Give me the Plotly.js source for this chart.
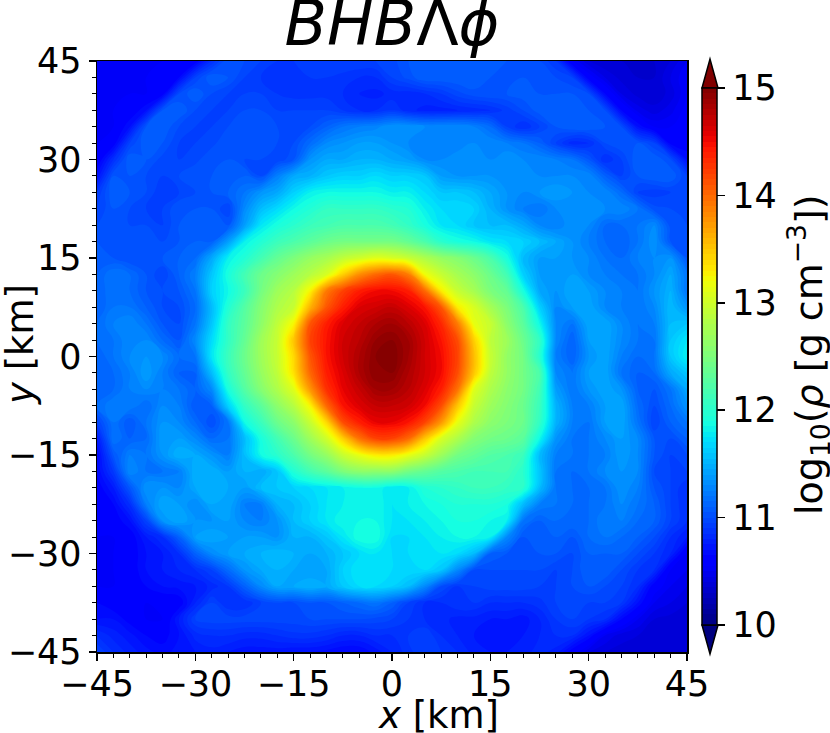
<!DOCTYPE html>
<html>
<head>
<meta charset="utf-8">
<script src="https://cdn.plot.ly/plotly-3.0.1.min.js"></script>
<style>
html, body { margin: 0; padding: 0; background: #fff; }
</style>
</head>
<body>
<div id="myDiv" style="width:830px;height:733px;"></div>
<script>
var xKm = [-45,-42.5,-40,-37.5,-35,-32.5,-30,-27.5,-25,-22.5,-20,-17.5,-15,-12.5,-10,-7.5,-5,-2.5,0,2.5,5,7.5,10,12.5,15,17.5,20,22.5,25,27.5,30,32.5,35,37.5,40,42.5,45];
var yKm = [45,42.5,40,37.5,35,32.5,30,27.5,25,22.5,20,17.5,15,12.5,10,7.5,5,2.5,0,-2.5,-5,-7.5,-10,-12.5,-15,-17.5,-20,-22.5,-25,-27.5,-30,-32.5,-35,-37.5,-40,-42.5,-45];

// log10(rho), one row per y, top row first
var logRho = [
[10.55,10.55,10.55,10.55,10.55,10.6,10.6,10.85,11.05,11.0,10.95,10.9,10.9,10.95,10.95,10.95,10.95,10.95, 10.98,11.05,11.1,11.1,11.1,11.08,11.08,11.05,11.0,11.0,10.9,10.55,10.4,10.35,10.35,10.35,10.35,10.4,10.5],
[10.55,10.55,10.55,10.55,10.6,10.65,10.95,11.1,11.05,10.95,10.9,10.85,10.85,10.9,10.9,10.88,10.85,10.85, 10.95,11.02,11.1,11.1,11.1,11.1,11.05,11.05,11.05,11.05,11.0,10.95,10.6,10.45,10.38,10.35,10.35,10.45,10.55],
[10.55,10.55,10.55,10.55,10.62,11.0,11.1,11.0,10.95,10.95,10.95,10.9,10.88,10.88,10.88,10.85,10.8,10.78, 10.82,10.82,10.85,10.9,10.98,11.03,11.05,11.05,11.08,11.05,11.05,11.05,11.0,10.65,10.45,10.38,10.36,10.42,10.55],
[10.55,10.55,10.58,10.7,11.05,11.1,11.0,10.95,10.95,11.0,11.0,10.95,10.95,10.95,10.95,10.9,10.85,10.85, 10.9,10.82,10.78,10.78,10.8,10.82,10.85,10.92,11.0,11.08,11.1,11.1,11.05,11.0,10.65,10.48,10.42,10.48,10.58],
[10.55,10.55,10.7,11.05,11.1,11.0,10.95,10.95,11.0,11.05,11.05,11.0,11.0,11.0,11.1,11.2,11.25,11.28, 11.35,11.35,11.3,11.3,11.3,11.25,11.15,10.95,10.85,10.95,11.05,11.1,11.1,11.05,11.0,10.7,10.55,10.55,10.6],
[10.55,10.6,10.95,11.1,11.05,10.95,10.95,10.98,11.05,11.05,11.05,11.0,11.0,11.15,11.3,11.35,11.4,11.4, 11.35,11.3,11.3,11.25,11.25,11.3,11.3,11.25,11.2,11.1,10.95,10.82,10.85,11.0,11.05,11.05,10.95,10.62,10.6],
[10.57,10.85,11.1,11.05,10.98,10.95,10.98,11.05,11.05,11.0,11.0,10.95,11.05,11.35,11.45,11.45,11.5,11.5, 11.45,11.4,11.3,11.3,11.35,11.35,11.3,11.35,11.3,11.3,11.25,11.2,11.05,10.85,10.95,11.1,11.1,11.0,10.7],
[10.7,11.05,11.05,11.0,10.95,11.0,11.05,11.05,11.1,11.1,11.0,11.25,11.45,11.5,11.6,11.65,11.65,11.7, 11.65,11.65,11.6,11.4,11.35,11.35,11.35,11.3,11.35,11.3,11.3,11.3,11.3,11.1,10.95,11.05,11.1,11.1,10.95],
[10.9,11.1,11.05,11.0,10.9,10.95,11.0,11.05,11.1,11.2,11.35,11.45,11.65,11.8,11.85,11.85,11.85,11.85, 11.8,11.8,11.7,11.6,11.6,11.55,11.45,11.35,11.3,11.35,11.4,11.35,11.3,11.3,11.15,10.95,10.92,10.95,11.0],
[10.95,11.05,11.0,10.95,10.95,11.05,11.05,11.05,10.95,11.3,11.55,11.7,11.85,11.95,12.05,12.05,12.05,12.05, 12.0,11.95,11.8,11.7,11.7,11.65,11.5,11.35,11.25,11.2,11.3,11.35,11.35,11.3,11.3,11.2,11.02,11.0,11.0],
[11.0,11.05,11.0,11.0,10.95,11.05,11.1,11.1,11.05,11.4,11.75,11.9,12.0,12.1,12.15,12.2,12.2,12.2, 12.15,12.05,11.9,11.75,11.7,11.6,11.55,11.55,11.45,11.3,11.25,11.35,11.3,11.15,11.15,11.2,11.3,11.02,11.0],
[11.05,11.05,11.05,11.05,11.0,11.05,11.1,11.1,11.4,11.8,11.95,12.1,12.2,12.3,12.4,12.45,12.45,12.45, 12.45,12.35,12.2,12.0,11.9,11.85,11.75,11.7,11.65,11.55,11.45,11.35,11.25,11.15,11.1,11.2,11.35,11.05,11.0],
[11.1,11.05,11.0,11.0,11.05,11.1,11.15,11.45,11.8,11.95,12.15,12.35,12.5,12.65,12.75,12.9,13.0,13.1, 13.05,12.95,12.8,12.65,12.55,12.4,12.2,11.9,11.55,11.4,11.4,11.35,11.3,11.2,11.15,11.25,11.3,11.35,11.05],
[11.1,11.2,11.15,11.05,10.95,11.1,11.25,11.6,11.9,12.15,12.4,12.55,12.7,12.85,13.05,13.45,13.8,14.0, 14.1,13.9,13.2,12.95,12.75,12.6,12.4,12.15,11.65,11.4,11.4,11.4,11.3,11.25,11.2,11.2,11.3,11.45,11.2],
[11.1,11.2,11.15,11.05,11.0,11.05,11.2,11.65,11.85,12.1,12.45,12.7,12.85,13.25,13.9,14.2,14.4,14.5, 14.5,14.4,14.0,13.3,12.95,12.75,12.5,12.35,11.9,11.45,11.35,11.45,11.4,11.3,11.25,11.2,11.35,11.5,11.2],
[11.1,11.2,11.2,11.1,11.0,11.0,11.15,11.55,11.95,12.25,12.55,12.8,12.95,13.6,14.1,14.4,14.6,14.65, 14.7,14.6,14.45,14.1,13.3,13.05,12.75,12.5,12.2,11.65,11.3,11.4,11.45,11.3,11.25,11.2,11.3,11.55,11.35],
[11.15,11.25,11.3,11.2,11.05,11.0,11.2,11.6,12.05,12.3,12.6,12.9,13.25,14.1,14.4,14.6,14.7,14.8, 14.85,14.75,14.6,14.35,13.9,13.15,12.95,12.6,12.3,11.85,11.3,11.2,11.45,11.45,11.3,11.2,11.25,11.55,11.6],
[11.15,11.2,11.3,11.3,11.15,11.05,11.3,11.7,12.05,12.35,12.7,12.95,13.5,14.2,14.45,14.65,14.75,14.9, 14.95,14.85,14.65,14.45,14.15,13.45,12.9,12.7,12.4,12.05,11.3,11.1,11.4,11.45,11.3,11.2,11.2,11.6,11.75],
[11.1,11.2,11.3,11.35,11.3,11.15,11.2,11.75,12.1,12.4,12.7,12.95,13.4,14.1,14.45,14.65,14.8,14.95, 15.0,14.85,14.65,14.5,14.2,13.55,12.95,12.65,12.45,12.0,11.25,11.1,11.35,11.45,11.25,11.15,11.2,11.6,11.8],
[11.1,11.15,11.25,11.4,11.25,11.1,11.1,11.55,12.05,12.35,12.65,12.9,13.35,14.0,14.4,14.6,14.8,14.95, 14.95,14.8,14.65,14.5,14.15,13.5,12.9,12.65,12.45,12.2,11.3,11.2,11.4,11.45,11.2,11.1,11.15,11.45,11.6],
[11.1,11.15,11.25,11.3,11.25,11.2,11.1,11.3,11.9,12.25,12.55,12.8,13.1,13.75,14.3,14.55,14.7,14.85, 14.85,14.75,14.6,14.4,13.95,13.1,12.8,12.6,12.45,12.15,11.4,11.2,11.35,11.45,11.35,11.1,11.05,11.2,11.45],
[11.15,11.25,11.25,11.15,11.3,11.25,11.05,11.1,11.65,12.05,12.3,12.6,12.85,13.25,14.0,14.45,14.6,14.7, 14.7,14.65,14.5,14.15,13.5,12.95,12.7,12.55,12.4,12.1,11.5,11.25,11.25,11.4,11.45,11.15,11.0,11.15,11.35],
[10.95,11.2,11.05,11.2,11.35,11.3,11.15,11.0,11.2,11.85,12.1,12.4,12.6,12.95,13.4,14.15,14.4,14.55, 14.55,14.45,14.2,13.75,13.15,12.8,12.6,12.5,12.4,12.05,11.5,11.25,11.2,11.4,11.45,11.2,10.95,11.1,11.2],
[10.75,11.2,11.1,11.15,11.4,11.4,11.3,11.15,11.2,11.55,11.9,12.15,12.4,12.7,13.0,13.45,13.95,14.2, 14.2,14.0,13.5,13.05,12.8,12.55,12.45,12.4,12.3,11.85,11.35,11.2,11.2,11.3,11.4,11.3,11.05,11.0,11.1],
[10.65,11.05,11.25,11.2,11.35,11.5,11.45,11.35,11.25,11.55,11.85,12.0,12.2,12.45,12.65,12.95,13.15,13.3, 13.3,13.15,12.95,12.7,12.45,12.35,12.25,12.2,12.1,11.55,11.25,11.2,11.2,11.25,11.4,11.3,11.05,10.95,11.0],
[10.65,10.9,11.3,11.2,11.2,11.25,11.5,11.5,11.4,11.5,11.45,11.6,11.95,12.15,12.3,12.5,12.6,12.6, 12.6,12.45,12.35,12.25,12.2,12.15,12.15,12.15,12.0,11.6,11.2,11.15,11.2,11.3,11.35,11.3,11.0,10.95,10.95],
[10.6,10.75,11.05,11.35,11.35,11.3,11.45,11.5,11.45,11.4,11.55,11.6,11.65,11.7,11.75,11.8,11.85,11.85, 11.75,11.8,11.95,12.0,12.05,12.1,12.1,12.05,12.0,11.55,11.2,11.15,11.15,11.2,11.35,11.25,11.05,10.95,10.85],
[10.6,10.65,10.85,11.25,11.45,11.4,11.3,11.45,11.45,11.25,11.25,11.5,11.55,11.65,11.75,11.8,11.85,11.85, 11.75,11.8,11.85,11.9,11.95,11.95,11.95,11.9,11.55,11.25,11.2,11.15,11.15,11.2,11.3,11.2,11.1,10.95,10.85],
[10.6,10.6,10.7,10.95,11.35,11.45,11.35,11.35,11.4,11.3,11.25,11.35,11.55,11.65,11.75,11.85,11.85,11.85, 11.75,11.75,11.8,11.85,11.9,11.9,11.85,11.8,11.2,11.1,11.15,11.15,11.15,11.25,11.25,11.15,11.1,10.95,10.85],
[10.55,10.55,10.6,10.75,10.85,11.1,11.4,11.45,11.4,11.4,11.4,11.35,11.5,11.5,11.6,11.75,11.9,11.9, 11.7,11.7,11.75,11.8,11.85,11.85,11.8,11.3,11.05,11.1,11.1,11.05,11.15,11.2,11.15,11.1,11.0,10.85,10.75],
[10.55,10.55,10.6,10.7,10.75,10.85,11.1,11.3,11.4,11.45,11.5,11.55,11.5,11.45,11.5,11.6,11.7,11.75, 11.7,11.7,11.75,11.75,11.7,11.55,11.1,11.05,11.05,11.05,11.05,11.0,11.1,11.1,11.1,11.0,10.9,10.8,10.55],
[10.55,10.55,10.6,10.7,10.75,10.8,10.85,10.95,11.15,11.35,11.45,11.5,11.45,11.4,11.45,11.65,11.75,11.75, 11.7,11.7,11.7,11.6,11.3,11.0,11.0,11.0,11.0,11.0,10.95,11.0,11.1,11.1,11.0,10.9,10.85,10.55,10.5],
[10.55,10.55,10.58,10.65,10.7,10.72,10.75,10.82,10.9,11.1,11.3,11.45,11.45,11.5,11.45,11.6,11.7,11.7, 11.65,11.55,11.3,11.0,10.9,10.95,10.98,10.98,10.98,10.95,10.95,11.0,11.05,11.0,10.95,10.85,10.6,10.5,10.45],
[10.65,10.6,10.58,10.55,10.58,10.6,10.8,10.95,10.85,10.85,10.95,11.0,11.0,11.05,11.05,11.1,11.15,11.2, 11.1,10.95,10.85,10.85,10.9,10.9,10.85,10.85,10.85,10.88,10.95,11.0,10.95,10.95,10.9,10.7,10.5,10.45,10.4],
[10.7,10.7,10.62,10.55,10.55,10.75,10.95,10.98,10.98,10.98,10.98,10.98,10.98,11.0,11.0,11.0,11.0,10.98, 10.95,10.9,10.85,10.82,10.78,10.78,10.75,10.75,10.72,10.8,10.9,10.95,10.9,10.85,10.65,10.5,10.4,10.38,10.38],
[10.85,10.78,10.72,10.65,10.62,10.7,10.82,10.85,10.85,10.82,10.82,10.85,10.88,10.88,10.85,10.8,10.8,10.85, 10.85,10.9,10.95,10.85,10.8,10.75,10.72,10.72,10.75,10.8,10.85,10.85,10.7,10.5,10.42,10.4,10.38,10.38,10.38],
[10.95,10.85,10.78,10.72,10.68,10.72,10.75,10.78,10.75,10.72,10.72,10.72,10.7,10.7,10.68,10.65,10.65,10.72, 10.8,10.88,10.95,10.9,10.85,10.78,10.75,10.75,10.78,10.82,10.78,10.6,10.45,10.4,10.38,10.38,10.38,10.38,10.38]
];

var axisTicks = [-45,-30,-15,0,15,30,45];
var colorbarTicks = [10,11,12,13,14,15];

// matplotlib jet
var jet = [
    [0, "rgb(0,0,128)"], [0.11, "rgb(0,0,255)"], [0.125, "rgb(0,0,255)"],
    [0.34, "rgb(0,219,255)"], [0.35, "rgb(0,230,247)"], [0.375, "rgb(21,255,226)"],
    [0.64, "rgb(239,255,8)"], [0.65, "rgb(247,246,0)"], [0.66, "rgb(255,236,0)"],
    [0.89, "rgb(255,19,0)"], [0.91, "rgb(232,0,0)"], [1, "rgb(128,0,0)"]
];

var tickFont = { family: "DejaVu Sans", size: 35, color: "#000" };

function axis(standoff) {
    return {
        range: [-45, 45],
        tickvals: axisTicks,
        ticks: "outside",
        ticklen: 7,
        tickwidth: 1.5,
        tickcolor: "#000",
        tickfont: tickFont,
        ticklabelstandoff: standoff,
        showgrid: false,
        zeroline: false,
        showline: true,
        linecolor: "#000",
        linewidth: 1.5,
        mirror: true,
        minor: { dtick: 2.5, tick0: 0, ticks: "outside", ticklen: 4, tickwidth: 1, tickcolor: "#000", showgrid: false }
    };
}

// pixels turned into paper fractions
function px(x) { return (x - 97) / 590; }
function py(y) { return (652 - y) / 591; }

function arrow(left, right, base, tip, color) {
    return {
        type: "path", xref: "paper", yref: "paper",
        path: "M " + px(left) + " " + py(base) + " L " + px((left + right) / 2) + " " + py(tip) + " L " + px(right) + " " + py(base) + " Z",
        fillcolor: color,
        line: { color: "#000", width: 1.5 }
    };
}

function label(text, x, y, angle, size) {
    return {
        text: text, xref: "paper", yref: "paper", x: px(x), y: py(y),
        xanchor: "center", yanchor: "middle", textangle: angle,
        showarrow: false, font: { family: "DejaVu Sans", size: size, color: "#000" }
    };
}

var trace0 = {
    type: "contour",
    x: xKm,
    y: yKm,
    z: logRho,
    zmin: 10,
    zmax: 15,
    autocontour: false,
    contours: { start: 10, end: 15, size: 0.05, coloring: "fill", showlines: false },
    line: { width: 0, smoothing: 1.3 },
    colorscale: jet,
    hoverinfo: "skip",
    colorbar: {
        x: px(702),
        xanchor: "left",
        xpad: 0,
        y: py(356.5),
        yanchor: "middle",
        ypad: 0,
        lenmode: "pixels",
        len: 537,
        thickness: 15,
        outlinewidth: 1.5,
        outlinecolor: "#000",
        tickvals: colorbarTicks,
        ticks: "outside",
        ticklen: 8,
        tickwidth: 1.5,
        tickcolor: "#000",
        tickfont: tickFont
    }
};

var layout = {
    width: 830,
    height: 733,
    autosize: false,
    margin: { l: 97, r: 143, t: 61, b: 81, pad: 0 },
    paper_bgcolor: "#fff",
    plot_bgcolor: "#fff",
    title: {
        text: "<i>BHB</i>Λ<i>ϕ</i>",
        font: { family: "DejaVu Sans", size: 62, color: "#000" },
        xref: "paper",
        x: 0.5,
        xanchor: "center",
        yref: "container",
        y: 0.938,
        yanchor: "bottom"
    },
    xaxis: axis(-7),
    yaxis: axis(0),
    annotations: [
        label("<i>x</i> [km]", 438, 715, 0, 37),
        label("<i>y</i> [km]", 20, 345, -90, 37),
        label("log<sub>10</sub>(<i>ρ</i> [g cm<sup>−3</sup>])", 808, 355, -90, 38)
    ],
    shapes: [
        arrow(702, 718, 88, 59, "rgb(128,0,0)"),
        arrow(702, 718, 625, 654, "rgb(0,0,128)")
    ]
};

Plotly.newPlot("myDiv", [trace0], layout, { displayModeBar: false, staticPlot: true });
</script>
</body>
</html>
